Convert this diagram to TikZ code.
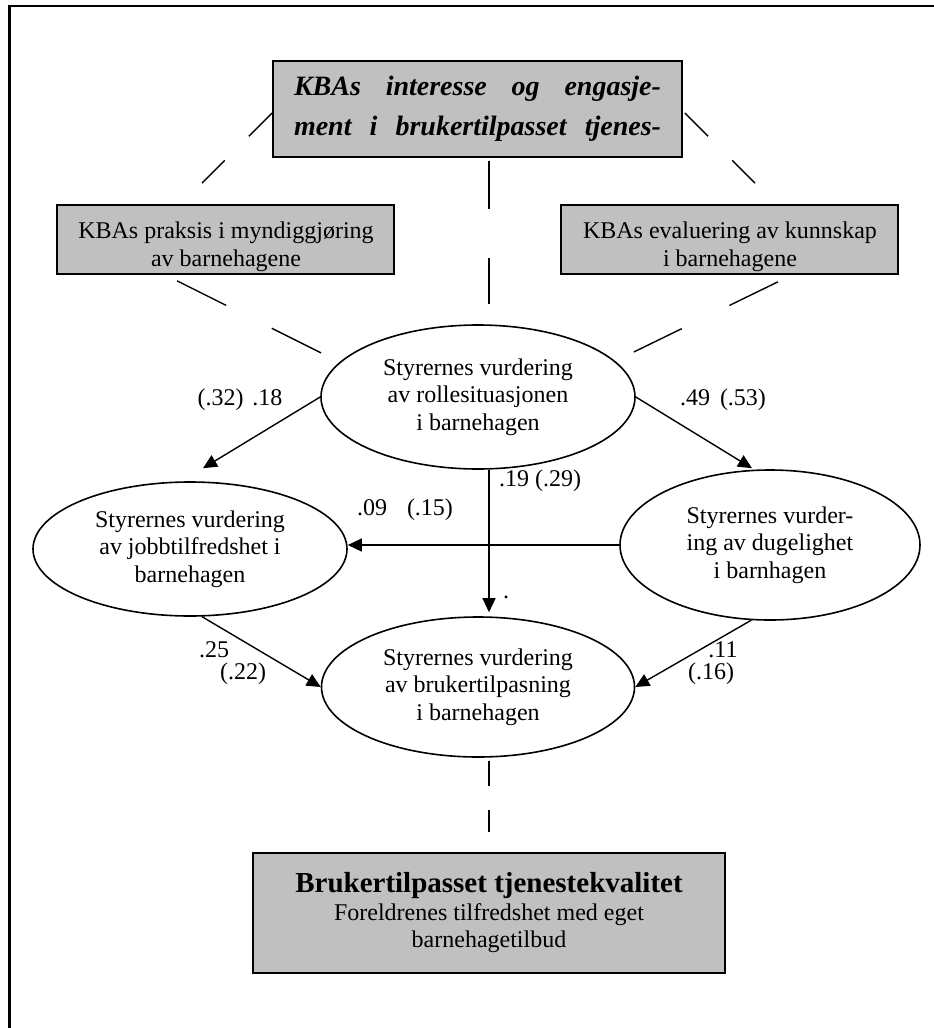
\documentclass[tikz,border=0pt]{standalone}
\usepackage{fontspec}
\setmainfont{Liberation Serif}
\usetikzlibrary{arrows.meta,calc,shapes.geometric}
\definecolor{boxgray}{HTML}{C0C0C0}

\begin{document}
\begin{tikzpicture}[x=1pt,y=-1pt,
  every node/.style={font=\fontsize{24}{27.5}\selectfont},
  graybox/.style={draw, line width=1.6pt, fill=boxgray, inner sep=0pt},
  oval/.style={draw, ellipse, line width=1.6pt, inner sep=0pt, align=center},
  arr/.style={line width=1.4pt, -{Triangle[length=14pt,width=13pt]}},
  dline/.style={line width=1.4pt},
  lbl/.style={inner sep=0pt}
]
\useasboundingbox (0,0) rectangle (934,1028);

% page frame (left and top edges)
\draw[line width=2.5pt] (9.5,1028) -- (9.5,6) -- (934,6);

% top factor box
\node[graybox, minimum width=409pt, minimum height=96pt, align=center,
      font=\fontsize{28}{40}\selectfont\bfseries\itshape] (top) at (477.5,109)
  {\hbox to 367pt{KBAs\hfil interesse\hfil og\hfil engasje-}\\
   \hbox to 367pt{ment\hfil i\hfil brukertilpasset\hfil tjenes-}};

% side boxes, text clipped to the box
\node[graybox, minimum width=337pt, minimum height=69pt] (lbox) at (225.5,239.5) {};
\node[graybox, minimum width=337pt, minimum height=69pt] (rbox) at (729.5,239.5) {};
\begin{scope}
  \clip ($(lbox.south west)+(1,-1)$) rectangle ($(lbox.north east)+(-1,1)$);
  \node[align=center, inner sep=0pt] (ltext) at (226,247)
    {KBAs praksis i myndiggjøring\\av barnehagene};
\end{scope}
\begin{scope}
  \clip ($(rbox.south west)+(1,-1)$) rectangle ($(rbox.north east)+(-1,1)$);
  \node[align=center, inner sep=0pt] (rtext) at (730,247)
    {KBAs evaluering av kunnskap\\i barnehagene};
\end{scope}

% latent variables
\node[oval, minimum width=314pt, minimum height=144pt] (rolle) at (478,397)
  {Styrernes vurdering\\av rollesituasjonen\\i barnehagen};
\node[oval, minimum width=314pt, minimum height=134pt] (jobb) at (190,549)
  {Styrernes vurdering\\av jobbtilfredshet i\\barnehagen};
\node[oval, minimum width=300pt, minimum height=150pt] (dug) at (770,545)
  {Styrernes vurder-\\ing av dugelighet\\i barnhagen};
\node[oval, minimum width=313pt, minimum height=140pt] (bruker) at (478,687)
  {Styrernes vurdering\\av brukertilpasning\\i barnehagen};

% outcome box
\node[graybox, minimum width=472pt, minimum height=120pt, align=center] (bbox) at (489,913)
  {{\fontsize{29}{28}\selectfont\bfseries Brukertilpasset tjenestekvalitet}\\
   Foreldrenes tilfredshet med eget\\barnehagetilbud};

% dashed links
\draw[dline, dash pattern=on 33pt off 34pt] ($(top.west)+(0,4)$) -- ($(lbox.north)+(-23.5,-21)$);
\draw[dline, dash pattern=on 33pt off 34pt] ($(top.east)+(2,4)$) -- ($(rbox.north)+(25.5,-21)$);
\draw[dline, dash pattern=on 48pt off 49pt] ($(top.south)+(11.5,3)$) -- ($(rolle.north)+(11,-20)$);
\draw[dline, dash pattern=on 55pt off 51pt] ($(lbox.south)+(-48.5,6)$) -- ($(rolle.west)+(1,-44)$);
\draw[dline, dash pattern=on 54pt off 53pt] ($(rbox.south)+(48.5,7)$) -- ($(rolle.east)+(-2,-45)$);
\draw[dline, dash pattern=on 25pt off 24pt] ($(bruker.south)+(11,3)$) -- ($(bbox.north)+(0,-20)$);

% path arrows
\draw[arr] (rolle.west) -- ($(jobb.north)+(13,-13)$);
\draw[arr] (rolle.east) -- ($(dug.north)+(-18,-1)$);
\draw[arr] ($(rolle.south)+(11,0)$) -- ($(bruker.north)+(11,-4)$);
\draw[arr] (dug.west) -- (dug.west -| jobb.east);
\draw[arr] (jobb.280) -- (bruker.west);
\draw[arr] (dug.256) -- (bruker.east);

% coefficients
\node[lbl] (c1) at (240,400) {(.32)\hspace{3pt} .18};
\node[lbl] (c2) at (723,400) {.49\hspace{4pt} (.53)};
\node[lbl] (c3) at (540,481) {.19 (.29)};
\node[lbl] (c4) at (405,510) {.09\hspace{14pt} (.15)};
\node[lbl] (c5) at (214,650) {.25};
\node[lbl] (c6) at (243,674) {(.22)};
\node[lbl] (c7) at (723,650) {.11};
\node[lbl] (c8) at (711,674) {(.16)};
\node[lbl] (c9) at (506,597) {.};
\end{tikzpicture}
\end{document}
